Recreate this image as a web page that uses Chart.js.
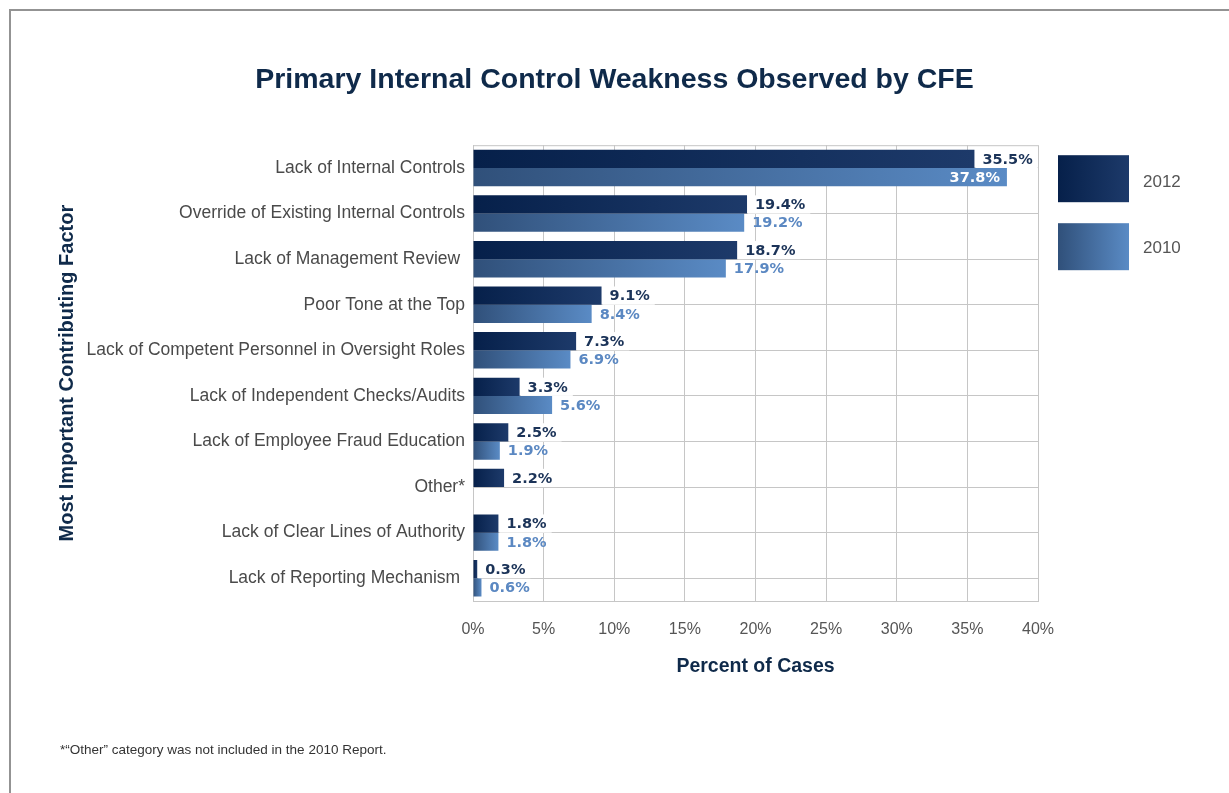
<!DOCTYPE html>
<html>
<head>
<meta charset="utf-8">
<script src="https://cdn.jsdelivr.net/npm/chart.js@4"></script>
<style>
    body { margin: 0; background: #fff; }
    #wrap { position: relative; width: 1229px; height: 793px; overflow: hidden; }
    #frame { position: absolute; left: 9px; top: 9px; width: 1240px; height: 800px;
             border-left: 2px solid #939393; border-top: 2px solid #939393; }
    #myChart { position: absolute; left: 0; top: 0; }
    #note { position: absolute; left: 60px; top: 742px; font: 13.5px "Liberation Sans", Arial, sans-serif; color: #333; }
</style>
</head>
<body>
<div id="wrap">
    <div id="frame"></div>
    <canvas id="myChart" width="1229" height="793"></canvas>
    <div id="note">*“Other” category was not included in the 2010 Report.</div>
</div>
<script>
const categories = [
    "Lack of Internal Controls",
    "Override of Existing Internal Controls",
    "Lack of Management Review ",
    "Poor Tone at the Top",
    "Lack of Competent Personnel in Oversight Roles",
    "Lack of Independent Checks/Audits",
    "Lack of Employee Fraud Education",
    "Other*",
    "Lack of Clear Lines of Authority",
    "Lack of Reporting Mechanism "
];
const values2012 = [35.5, 19.4, 18.7, 9.1, 7.3, 3.3, 2.5, 2.2, 1.8, 0.3];
const values2010 = [37.8, 19.2, 17.9, 8.4, 6.9, 5.6, 1.9, null, 1.8, 0.6];
const xTicks = [0, 5, 10, 15, 20, 25, 30, 35, 40];

const gradStops = {
    "2012": ["#06204a", "#1d3a6a"],
    "2010": ["#30507a", "#5a8bc5"]
};
const labelColors = { "2012": "#1b3358", "2010": "#5b88c2" };

// each bar gets its own left-to-right gradient
function barGradient(label) {
    return context => {
        const chart = context.chart;
        const area = chart.chartArea;
        const stops = gradStops[label];
        if (!area || context.raw == null) return stops[1];
        const end = chart.scales.x.getPixelForValue(context.raw);
        const g = chart.ctx.createLinearGradient(area.left, 0, Math.max(end, area.left + 1), 0);
        g.addColorStop(0, stops[0]);
        g.addColorStop(1, stops[1]);
        return g;
    };
}

const extrasPlugin = {
    id: "extras",
    beforeDatasetsDraw(chart) {
        const { ctx, chartArea } = chart;
        ctx.save();
        ctx.strokeStyle = "#c6c6c6";
        ctx.lineWidth = 1;
        ctx.beginPath();
        ctx.moveTo(chartArea.left, chartArea.top + 0.5);
        ctx.lineTo(chartArea.right, chartArea.top + 0.5);
        ctx.stroke();
        ctx.restore();
    },
    afterDatasetsDraw(chart) {
        const { ctx, chartArea } = chart;
        ctx.save();
        ctx.font = "bold 14.5px 'DejaVu Sans'";
        ctx.textBaseline = "middle";
        chart.data.datasets.forEach((ds, i) => {
            const meta = chart.getDatasetMeta(i);
            meta.data.forEach((bar, j) => {
                const v = ds.data[j];
                if (v == null) return;
                const text = v.toFixed(1) + "%";
                const w = ctx.measureText(text).width;
                const h = bar.height;
                if (bar.x + 8 + w > chartArea.right) {
                    if (ds.label === "2012") {
                        ctx.fillStyle = "#fff";
                        ctx.fillRect(bar.x, bar.y - h / 2, chartArea.right - bar.x - 1, h);
                        ctx.fillStyle = labelColors[ds.label];
                        ctx.textAlign = "right";
                        ctx.fillText(text, chartArea.right - 4, bar.y + 1);
                    } else {
                        ctx.fillStyle = "#fff";
                        ctx.textAlign = "right";
                        ctx.fillText(text, bar.x - 7, bar.y + 1);
                    }
                    return;
                }
                if (ds.label === "2012") {
                    ctx.fillStyle = "#fff";
                    ctx.fillRect(bar.x + 1, bar.y - h / 2, w + 12, h);
                }
                ctx.fillStyle = labelColors[ds.label];
                ctx.textAlign = "left";
                ctx.fillText(text, bar.x + 8, bar.y + 1);
            });
        });
        ctx.restore();
    },
    afterDraw(chart) {
        // legend: big gradient swatches to the right of the plot
        const { ctx, chartArea } = chart;
        ctx.save();
        chart.data.datasets.forEach((ds, i) => {
            const x = chartArea.right + 20;
            const y = chartArea.top + 10 + i * 68;
            const stops = gradStops[ds.label];
            const g = ctx.createLinearGradient(x, 0, x + 71, 0);
            g.addColorStop(0, stops[0]);
            g.addColorStop(1, stops[1]);
            ctx.fillStyle = g;
            ctx.fillRect(x, y, 71, 47);
            ctx.fillStyle = "#555";
            ctx.font = "17px 'Liberation Sans'";
            ctx.textAlign = "left";
            ctx.textBaseline = "middle";
            ctx.fillText(ds.label, x + 85, y + 27 - i * 1.5);
        });
        ctx.restore();
    }
};

const ctx = document.getElementById("myChart").getContext("2d");

const myChart = new Chart(ctx, {
    type: "bar",
    data: {
        labels: categories,
        datasets: [
            {
                label: "2012",
                data: values2012,
                backgroundColor: barGradient("2012"),
                categoryPercentage: 0.8,
                barPercentage: 1
            },
            {
                label: "2010",
                data: values2010,
                backgroundColor: barGradient("2010"),
                categoryPercentage: 0.8,
                barPercentage: 1
            }
        ]
    },
    options: {
        indexAxis: "y",
        responsive: false,
        animation: false,
        devicePixelRatio: 1,
        layout: { padding: 0 },
        plugins: {
            legend: { display: false },
            tooltip: { enabled: false },
            title: {
                display: true,
                text: "Primary Internal Control Weakness Observed by CFE",
                color: "#0f2a4a",
                font: { family: "'Liberation Sans'", size: 28.5, weight: "bold" },
                padding: { top: 63, bottom: 48 }
            }
        },
        scales: {
            x: {
                min: 0,
                max: 40,
                afterBuildTicks: axis => { axis.ticks = xTicks.map(v => ({ value: v })); },
                afterFit: axis => { axis.height = 192; },
                grid: { color: "#c6c6c6", drawTicks: false },
                border: { color: "#c6c6c6" },
                ticks: {
                    padding: 19,
                    color: "#555",
                    font: { family: "'Liberation Sans'", size: 16 },
                    callback: v => v + "%"
                },
                title: {
                    display: true,
                    text: "Percent of Cases",
                    color: "#0f2a4a",
                    font: { family: "'Liberation Sans'", size: 19.5, weight: "bold" },
                    padding: { top: 0, bottom: 115 }
                }
            },
            y: {
                afterFit: axis => { axis.width = 473; },
                grid: { color: "#c6c6c6", drawTicks: false, offset: false },
                border: { color: "#c6c6c6" },
                ticks: {
                    padding: 8,
                    color: "#4a4a4a",
                    font: { family: "'Liberation Sans'", size: 17.5 }
                },
                title: {
                    display: true,
                    text: "Most Important Contributing Factor",
                    color: "#0f2a4a",
                    font: { family: "'Liberation Sans'", size: 20, weight: "bold" },
                    padding: { top: 55, bottom: 0 }
                }
            },
            // empty right-hand axis that only reserves room for the legend
            legendSpace: {
                type: "linear",
                position: "right",
                afterFit: axis => { axis.width = 191; },
                grid: { display: false },
                border: { display: false },
                ticks: { display: false }
            }
        }
    },
    plugins: [extrasPlugin]
});
</script>
</body>
</html>
